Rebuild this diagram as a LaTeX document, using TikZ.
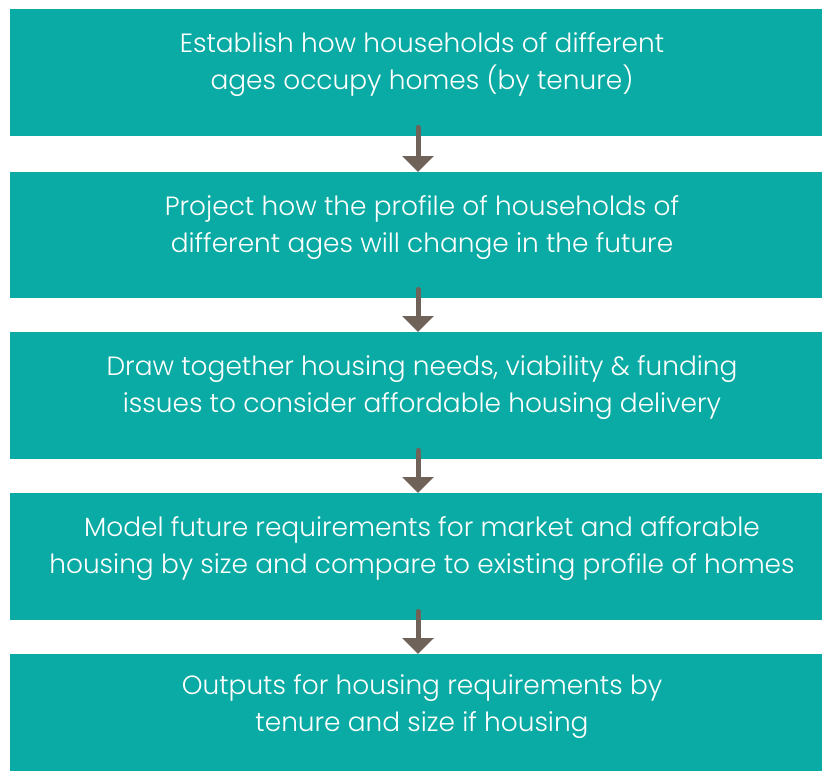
\documentclass[tikz,border=0pt]{standalone}
\usepackage{fontspec}
\setmainfont{Poppins}[UprightFont=*-Light]
\usetikzlibrary{arrows.meta}
\definecolor{stepteal}{HTML}{0AABA4}
\definecolor{arrowbrown}{HTML}{6F6259}

\begin{document}
\begin{tikzpicture}[x=1pt, y=-1pt,
  stagebox/.style={fill=stepteal, draw=none, minimum width=812pt, inner sep=0pt, anchor=north},
  stagetext/.style={text=white, align=center, font=\fontsize{26.4}{37}\selectfont},
  flowarrow/.style={draw=arrowbrown, line width=5pt, line cap=round, -{Triangle[width=31pt, length=16pt]}}]
\useasboundingbox (0,0) rectangle (822,774);
\node[stagebox, minimum height=127pt] (box1) at (416,9) {};
\node[stagebox, minimum height=126pt] (box2) at (416,172) {};
\node[stagebox, minimum height=127pt] (box3) at (416,332) {};
\node[stagebox, minimum height=127pt] (box4) at (416,493) {};
\node[stagebox, minimum height=117pt] (box5) at (416,654) {};
\node[stagetext] (txt1) at ([xshift=6pt, yshift=8pt]box1.center) {Establish how households of different\\ages occupy homes (by tenure)};
\node[stagetext] (txt2) at ([xshift=6pt, yshift=8pt]box2.center) {Project how the profile of households of\\different ages will change in the future};
\node[stagetext] (txt3) at ([xshift=6pt, yshift=8pt]box3.center) {Draw together housing needs, viability \& funding\\issues to consider affordable housing delivery};
\node[stagetext] (txt4) at ([xshift=6pt, yshift=8pt]box4.center) {Model future requirements for market and afforable\\housing by size and compare to existing profile of homes};
\node[stagetext] (txt5) at ([xshift=6pt, yshift=6pt]box5.center) {Outputs for housing requirements by\\tenure and size if housing};
\foreach \a/\b in {box1/box2, box2/box3, box3/box4, box4/box5}
  \draw[flowarrow] ([xshift=2pt, yshift=9pt]\a.south) -- ([xshift=2pt]\b.north);
\end{tikzpicture}
\end{document}
